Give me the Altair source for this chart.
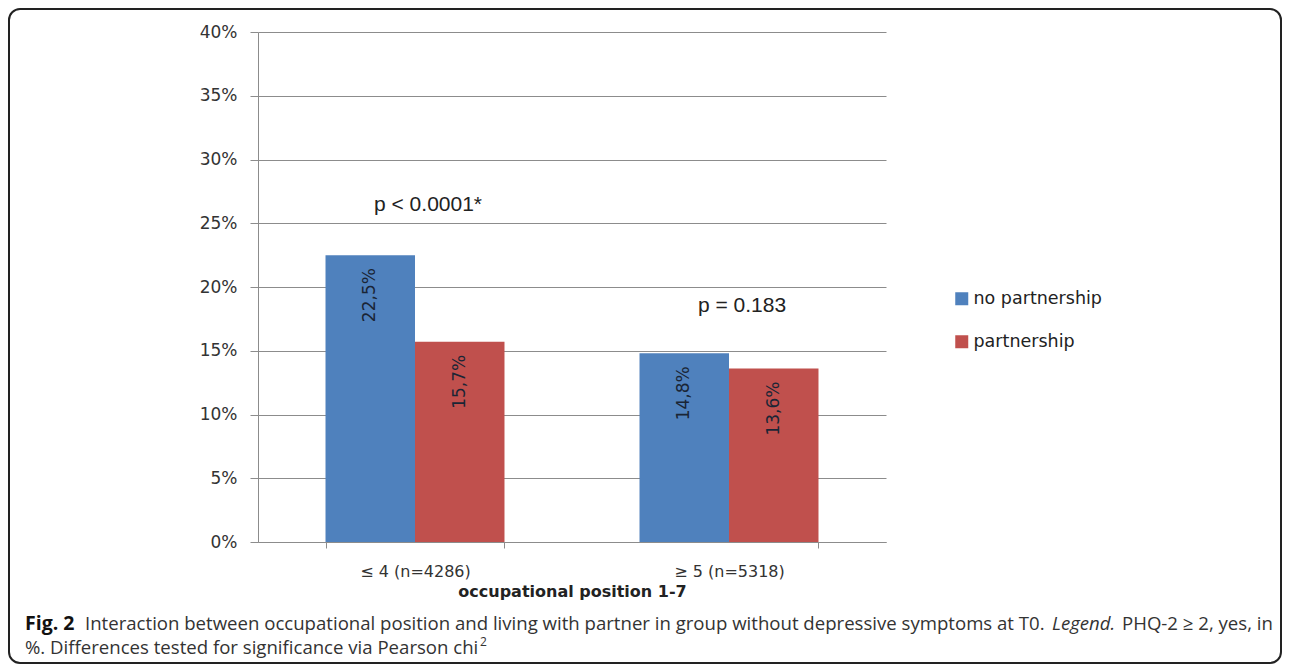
import altair as alt
import pandas as pd

# ---- data ----
categories = ["≤ 4 (n=4286)", "≥ 5 (n=5318)"]
groups = ["no partnership", "partnership"]
no_partnership = [22.5, 14.8]
partnership = [15.7, 13.6]
p_texts = ["p < 0.0001*", "p = 0.183"]
p_y = [26.4, 18.5]
y_ticks = [0, 5, 10, 15, 20, 25, 30, 35, 40]
colors = ["#4F81BD", "#C0504D"]

rows = []
for i, c in enumerate(categories):
    for g, vals in zip(groups, [no_partnership, partnership]):
        v = vals[i]
        rows.append({"cat": c, "grp": g, "val": v,
                     "lab": f"{v:.1f}".replace(".", ",") + "%"})
df = pd.DataFrame(rows)
pdf = pd.DataFrame({"cat": categories, "txt": p_texts, "y": p_y})

# plot origin on page is (258, 32)
def px(p):
    return p - 258

def py(q):
    return q - 32

W, H = 628, 510
GRAY = "#8c8c8c"
FONT = "DejaVu Sans"

xenc = alt.X("cat:N", sort=categories,
             scale=alt.Scale(paddingInner=0.43, paddingOuter=0.215),
             axis=alt.Axis(title="occupational position 1-7", labelAngle=0,
                           tickBand="extent", tickSize=6, labelPadding=15,
                           labelFontSize=16, titleFontSize=16, titleFontWeight="bold",
                           titlePadding=4, domainColor=GRAY, tickColor=GRAY,
                           labelColor="#333", titleColor="#222",
                           labelFont=FONT, titleFont=FONT, grid=False))
yenc = alt.Y("val:Q", scale=alt.Scale(domain=[0, 40], nice=False),
             axis=alt.Axis(title=None, values=y_ticks, labelExpr="datum.value + '%'",
                           tickSize=8, labelPadding=13, labelFontSize=17,
                           labelFont=FONT, labelColor="#333",
                           domainColor=GRAY, tickColor=GRAY,
                           grid=True, gridColor=GRAY, gridWidth=1))
xoff = alt.XOffset("grp:N", sort=groups)

bars = alt.Chart(df).mark_bar().encode(
    x=xenc, y=yenc, xOffset=xoff,
    color=alt.Color("grp:N", sort=groups,
                    scale=alt.Scale(domain=groups, range=colors),
                    legend=alt.Legend(title=None, orient="none", legendX=695, legendY=258,
                                      symbolType="square", symbolSize=169,
                                      symbolStrokeWidth=0, labelFontSize=17.5,
                                      labelFont=FONT, labelColor="#222",
                                      rowPadding=24, labelOffset=3, padding=0)),
)

bar_labels = alt.Chart(df).mark_text(
    angle=270, align="right", baseline="middle", dx=-13,
    fontSize=17, font=FONT, color="#1a2535"
).encode(x=alt.X("cat:N", sort=categories), y="val:Q", xOffset=xoff, text="lab:N")

p_labels = alt.Chart(pdf).mark_text(
    align="center", baseline="middle", dx=13, fontSize=21,
    font="Liberation Sans", color="#222"
).encode(x=alt.X("cat:N", sort=categories), y=alt.Y("y:Q"), text="txt:N")

one = alt.Data(values=[{}])
border = alt.Chart(one).mark_rect(
    fill="transparent", stroke="#222", strokeWidth=2, cornerRadius=11
).encode(x=alt.value(px(9)), x2=alt.value(px(1281)),
         y=alt.value(py(9)), y2=alt.value(py(663)))

CAP = "Open Sans"
CS = 18.6
L1, L2 = 630, 654
def cap(text, x, y, weight="normal", style="normal", size=CS, color="#333"):
    return alt.Chart(one).mark_text(
        text=text, align="left", baseline="alphabetic", font=CAP,
        fontSize=size, fontWeight=weight, fontStyle=style, color=color
    ).encode(x=alt.value(px(x)), y=alt.value(py(y)))

caption = [
    cap("Fig. 2", 25, L1, weight="bold", size=19.5, color="#111"),
    cap("Interaction between occupational position and living with partner in group "
        "without depressive symptoms at T0.", 85, L1),
    cap("Legend.", 1052, L1, style="italic"),
    cap("PHQ-2 ≥ 2, yes, in", 1122, L1),
    cap("%. Differences tested for significance via Pearson chi", 25, L2),
    cap("2", 480, L2 - 8, size=12),
]

chart = alt.layer(bars, bar_labels, p_labels, border, *caption).properties(
    width=W, height=H,
    autosize=alt.AutoSizeParams(type="none"),
    padding={"left": 250, "top": 24, "right": 396, "bottom": 122},
).configure_view(stroke=None)

chart.save("out.html", embed_options={"renderer": "svg", "actions": False})
